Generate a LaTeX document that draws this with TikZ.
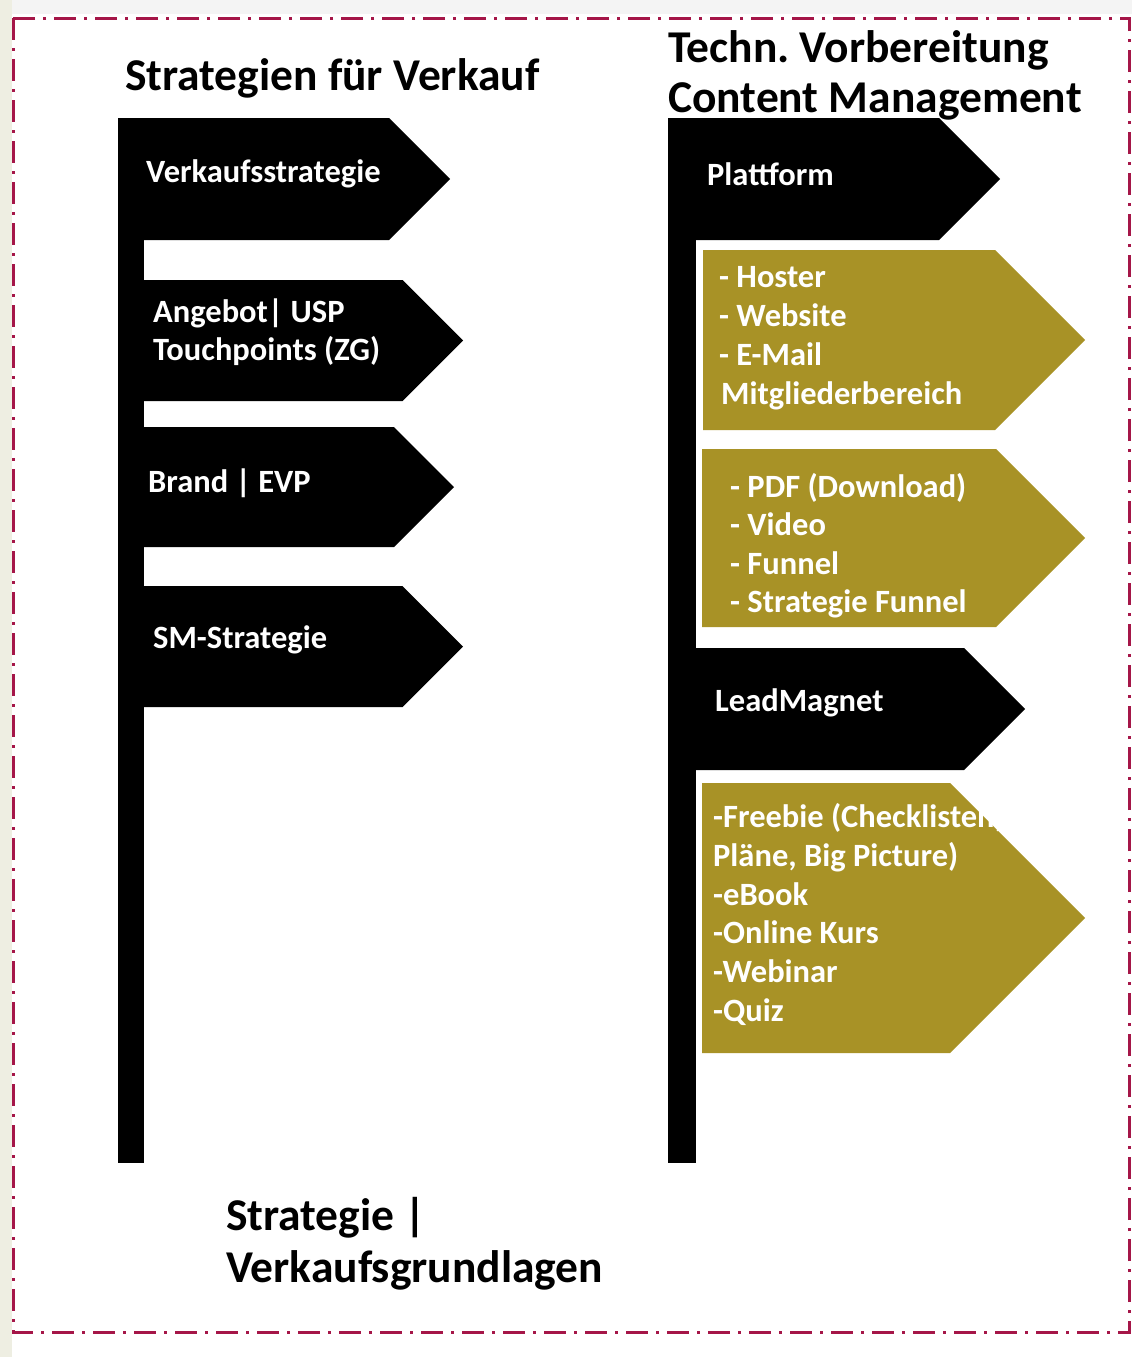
\documentclass[tikz,border=0pt]{standalone}
\usepackage{fontspec}
\setmainfont{Carlito}
\frenchspacing
\definecolor{gold}{RGB}{168,146,38}
\definecolor{crim}{RGB}{165,22,72}
\definecolor{beige}{RGB}{238,238,226}
\definecolor{topgray}{RGB}{244,244,244}
\newcommand{\sign}[5]{% fill, x left, y top, y bottom, x tip
  \fill[#1] (#2,#3) -- ({#5-(#4-#3)/2},#3) -- (#5,{(#3+#4)/2}) -- ({#5-(#4-#3)/2},#4) -- (#2,#4) -- cycle;}
\begin{document}
\begin{tikzpicture}[x=1pt,y=-1pt,
  wt/.style={anchor=base west, inner sep=0pt, text=white, font=\bfseries\fontsize{32.5}{38}\selectfont},
  title/.style={anchor=base west, inner sep=0pt, text=black, font=\bfseries\fontsize{45.5}{52}\selectfont}]
\useasboundingbox (0,0) rectangle (1132,1357);
\fill[white] (0,0) rectangle (1132,1357);
\fill[topgray] (0,0) rectangle (1132,14);
\fill[beige] (0,0) rectangle (12,1357);
\draw[crim, line width=3pt, dash pattern=on 22pt off 8pt on 3pt off 8pt] (13,18) rectangle (1129,1332);
% left column
\fill[black] (118,118) rectangle (144,1163);
\sign{black}{118}{118}{240}{450}
\sign{black}{118}{280}{401}{463}
\sign{black}{118}{427}{547}{454}
\sign{black}{118}{586}{707}{463}
% right column
\fill[black] (668,118) rectangle (696,1163);
\sign{black}{668}{118}{240}{1000}
\sign{gold}{703}{250}{430}{1085}
\sign{gold}{702}{449}{627}{1085}
\sign{black}{668}{648}{770}{1025}
\sign{gold}{702}{783}{1053}{1085}
% titles
\node[title] (t1) at (125,90) {Strategien für Verkauf};
\node[title] (t2) at (668,62) {Techn. Vorbereitung};
\node[title] (t3) at (668,112) {Content Management};
\node[title] (t4) at (226,1230) {Strategie |};
\node[title] (t5) at (226,1282) {Verkaufsgrundlagen};
% left texts
\node[wt] (l1) at (146,182) {Verkaufsstrategie};
\node[wt] (l2a) at (153,322) {Angebot| USP};
\node[wt] (l2b) at (153,360) {Touchpoints (ZG)};
\node[wt] (l3) at (148,492) {Brand | EVP};
\node[wt] (l4) at (153,648) {SM-Strategie};
% right texts
\node[wt] (r1) at (707,185) {Plattform};
\node[wt] (g1a) at (719,287) {- Hoster};
\node[wt] (g1b) at (719,326) {- Website};
\node[wt] (g1c) at (719,365) {- E-Mail};
\node[wt] (g1d) at (721,404) {Mitgliederbereich};
\node[wt] (g2a) at (730,497) {- PDF (Download)};
\node[wt] (g2b) at (730,535) {- Video};
\node[wt] (g2c) at (730,574) {- Funnel};
\node[wt] (g2d) at (730,612) {- Strategie Funnel};
\node[wt] (r2) at (715,711) {LeadMagnet};
\node[wt] (g3a) at (713,827) {-Freebie (Checklisten,};
\node[wt] (g3b) at (713,866) {Pläne, Big Picture)};
\node[wt] (g3c) at (713,905) {-eBook};
\node[wt] (g3d) at (713,943) {-Online Kurs};
\node[wt] (g3e) at (713,982) {-Webinar};
\node[wt] (g3f) at (713,1021) {-Quiz};
\end{tikzpicture}
\end{document}
